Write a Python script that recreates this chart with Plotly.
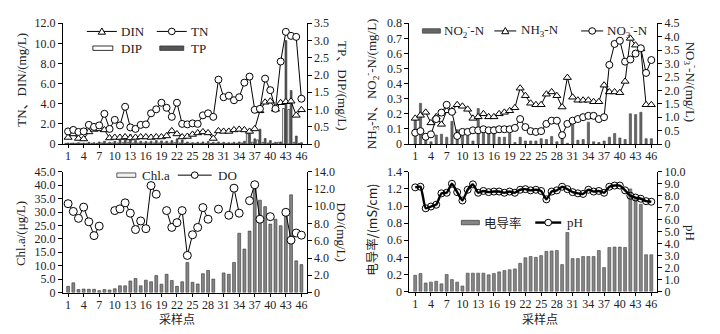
import plotly.graph_objects as go

# ---------------- data ----------------
sites = list(range(1, 47))

tn = [1.25, 1.4, 1.2, 1.25, 1.9, 1.7, 1.85, 3.0, 1.5, 2.4, 1.85, 3.7, 1.65, 1.5, 1.9, 1.95,
      3.05, 3.45, 4.1, 3.6, 2.7, 4.1, 2.0, 1.95, 2.05, 2.0, 2.85, 3.05, 2.7, 6.4, 4.65, 4.8,
      4.35, 4.65, 6.1, 6.7, 3.4, 3.5, 6.5, 5.35, 3.5, 8.2, 11.15, 10.75, 10.65, 4.5]
din = [0.65, 1.0, 0.55, 0.5, 1.2, 1.45, 1.5, 1.4, 0.6, 0.65, 0.65, 0.7, 0.6, 0.65, 0.7, 0.7,
       0.65, 0.7, 0.7, 0.8, 1.3, 1.0, 0.7, 0.75, 0.95, 1.1, 1.2, 1.1, 0.55, 1.3, 1.25, 1.25,
       1.4, 1.45, 1.4, 1.25, 1.5, 3.3, 4.15, 4.25, 3.45, 4.1, 4.2, 4.25, 2.85, 3.4]
tp = [0.03, 0.03, 0.04, 0.03, 0.05, 0.04, 0.06, 0.08, 0.05, 0.08, 0.12, 0.18, 0.28, 0.1, 0.08, 0.07,
      0.08, 0.1, 0.09, 0.08, 0.1, 0.15, 0.12, 0.06, 0.04, 0.05, 0.06, 0.07, 0.05, 0.06, 0.05, 0.04,
      0.05, 0.06, 0.08, 0.4, 0.15, 0.43, 0.16, 0.1, 0.05, 0.06, 3.0, 1.55, 0.23, 0.04]
dip = [0.02, 0.02, 0.02, 0.02, 0.02, 0.02, 0.02, 0.03, 0.02, 0.03, 0.03, 0.04, 0.05, 0.03, 0.03, 0.03,
       0.03, 0.03, 0.03, 0.03, 0.03, 0.04, 0.03, 0.02, 0.02, 0.02, 0.02, 0.02, 0.02, 0.02, 0.02, 0.02,
       0.02, 0.02, 0.03, 0.3, 0.05, 0.12, 0.05, 0.03, 0.02, 0.05, 1.03, 1.0, 0.05, 0.02]

no2 = [0.16, 0.27, 0.07, 0.015, 0.06, 0.065, 0.045, 0.15, 0.095, 0.07, 0.055, 0.02, 0.235, 0.11, 0.08, 0.115,
       0.045, 0.045, 0.07, 0.01, 0.045, 0.02, 0.02, 0.02, 0.035, 0.03, 0.05, 0.015, 0.035, 0.005, 0.145, 0.025,
       0.03, 0.145, 0.015, 0.01, 0.02, 0.045, 0.07, 0.04, 0.03, 0.2, 0.195, 0.21, 0.035, 0.035]
nh3 = [0.17, 0.19, 0.21, 0.14, 0.18, 0.13, 0.22, 0.22, 0.26, 0.25, 0.23, 0.17, 0.18, 0.2, 0.18, 0.18,
       0.2, 0.21, 0.22, 0.24, 0.37, 0.32, 0.27, 0.26, 0.26, 0.33, 0.345, 0.32, 0.245, 0.44, 0.31, 0.29,
       0.29, 0.29, 0.28, 0.28, 0.39, 0.345, 0.345, 0.34, 0.415, 0.7, 0.655, 0.63, 0.26, 0.26]
no3 = [0.42, 0.48, 0.27, 0.36, 0.93, 1.17, 1.46, 1.2, 0.3, 0.45, 0.45, 0.51, 0.51, 0.55, 0.51, 0.51,
       0.55, 0.55, 0.55, 0.6, 0.93, 0.63, 0.48, 0.45, 0.48, 0.75, 0.87, 0.87, 0.33, 0.75, 0.87, 0.93,
       1.0, 1.05, 1.05, 0.93, 1.0, 2.95, 3.73, 3.85, 3.07, 3.15, 3.37, 3.57, 2.65, 3.13]

chla = [2.3, 3.6, 1.1, 1.3, 1.2, 1.2, 0.7, 1.1, 0.95, 1.4, 2.5, 2.5, 4.3, 5.2, 2.5, 4.6,
        4.0, 6.3, 3.1, 6.8, 4.5, 2.3, 4.0, 11.2, 3.8, 3.2, 7.0, 8.2, 5.0, None, 7.3, 6.8,
        11.2, 22.1, 16.2, 22.9, 39.2, 34.4, 32.0, 25.5, 27.3, 24.9, 28.5, 36.4, 11.8, 10.4]
do = [10.3, 9.4, 8.6, 9.9, 8.2, 6.6, 7.7, None, None, 9.5, 9.7, 10.4, 9.2, 7.3, 8.3, 7.4,
      12.4, 11.4, None, 9.5, 7.55, 8.1, 9.5, 4.3, 6.7, 7.55, 9.85, 8.5, None, 9.67, None, 8.96,
      12.1, 9.2, None, 10.65, 12.5, 8.5, None, 8.8, None, None, 9.3, 6.07, 6.9, 6.65]

cond = [0.19, 0.21, 0.10, 0.11, 0.12, 0.09, 0.2, 0.14, 0.11, 0.065, 0.215, 0.215, 0.215, 0.215, 0.195, 0.21,
        0.23, 0.245, 0.255, 0.265, 0.33, 0.395, 0.41, 0.40, 0.42, 0.47, 0.475, 0.48, 0.315, 0.69, 0.385, 0.385,
        0.41, 0.41, 0.41, 0.48, 0.28, 0.515, 0.52, 0.52, 0.515, 1.2, 1.09, 1.02, 0.43, 0.43]
ph = [8.7, 8.75, 6.95, 7.1, 7.25, 8.2, 8.25, 9.0, 8.3, 7.6, 8.5, 8.95, 8.25, 8.4, 8.3, 8.35,
      8.35, 8.25, 8.35, 8.25, 8.5, 8.55, 8.45, 8.5, 8.4, 7.7, 8.35, 8.45, 8.75, 8.55, 8.3, 8.2,
      8.15, 8.5, 8.35, 8.4, 8.25, 8.75, 8.85, 8.85, 8.45, 8.0, 7.85, 7.75, 7.55, 7.5]

x_ticks = list(range(1, 47, 3))

# ---------------- helpers ----------------
W, H = 720, 334
FONT = "Liberation Serif, Noto Sans CJK SC, serif"
CJK = "Noto Sans CJK SC, Liberation Serif, sans-serif"


def px(x):
    return x / W


def py(y):
    return 1 - y / H


def fmt(v, dec):
    return "0" if v == 0 else f"{v:.{dec}f}"


def y_axis(lo_px, hi_px, top, step, dec, side, anchor, overlaying=None):
    n = int(round(top / step))
    vals = [round(i * step, 4) for i in range(n + 1)]
    d = dict(domain=[py(lo_px), py(hi_px)], range=[0, top], tickvals=vals,
             ticktext=[fmt(v, dec) for v in vals], side=side, anchor=anchor,
             showline=True, linecolor="black", linewidth=1, ticks="outside",
             ticklen=4, tickcolor="black", showgrid=False, zeroline=False,
             tickfont=dict(family=FONT, size=12, color="#222"), fixedrange=True)
    if overlaying:
        d["overlaying"] = overlaying
    return d


def x_axis(x0_px, x1_px, anchor, rng):
    return dict(domain=[px(x0_px), px(x1_px)], range=rng, tickvals=x_ticks,
                ticktext=[str(v) for v in x_ticks], anchor=anchor, showline=True,
                linecolor="black", linewidth=1, ticks="outside", ticklen=3,
                tickcolor="black", showgrid=False, zeroline=False, ticklabelstandoff=-2,
                tickfont=dict(family=FONT, size=12, color="#222"), fixedrange=True)


def line_trace(y, xa, ya, symbol, size=7, width=1, name=""):
    return go.Scatter(x=sites, y=y, xaxis=xa, yaxis=ya, mode="lines+markers",
                      name=name, connectgaps=False, showlegend=False,
                      line=dict(color="black", width=width),
                      marker=dict(symbol=symbol, size=size, color="white",
                                  line=dict(color="black", width=1)))


def bar_trace(y, xa, ya, fill, edge, offset, width, name=""):
    return go.Bar(x=sites, y=y, xaxis=xa, yaxis=ya, name=name, showlegend=False,
                  offset=offset, width=width, marker=dict(color=fill, line=dict(color=edge, width=0.6)))


fig = go.Figure()

# --- TN / DIN with TP / DIP ---
fig.add_trace(bar_trace(dip, "x", "y", "white", "black", -0.62, 0.36, "DIP"))
fig.add_trace(bar_trace(tp, "x", "y", "#555555", "#333333", -0.16, 0.36, "TP"))
fig.add_trace(line_trace(din, "x", "y2", "triangle-up", name="DIN"))
fig.add_trace(line_trace(tn, "x", "y2", "circle", name="TN"))

# --- NH3-N / NO2-N with NO3-N ---
fig.add_trace(bar_trace(no2, "x2", "y3", "#666666", "#444444", -0.2, 0.42, "NO2-N"))
fig.add_trace(line_trace(nh3, "x2", "y3", "triangle-up", name="NH3-N"))
fig.add_trace(line_trace(no3, "x2", "y4", "circle", name="NO3-N"))

# --- Chl.a with DO ---
fig.add_trace(bar_trace(chla, "x3", "y5", "#858585", "#333333", -0.27, 0.55, "Chl.a"))
fig.add_trace(line_trace(do, "x3", "y6", "circle", size=8, name="DO"))

# --- conductivity with pH ---
fig.add_trace(bar_trace(cond, "x4", "y7", "#858585", "#444444", -0.28, 0.56, "电导率"))
fig.add_trace(go.Scatter(x=sites, y=ph, xaxis="x4", yaxis="y8", mode="lines+markers",
                         name="pH", showlegend=False, line=dict(color="black", width=2.4, shape="spline", smoothing=0.5),
                         marker=dict(symbol="circle", size=7, color="rgba(255,255,255,0)",
                                     line=dict(color="black", width=1))))

LX = [0, 47]
RX = [-0.1, 47.1]
fig.update_layout(
    width=W, height=H, margin=dict(l=0, r=0, t=0, b=0),
    paper_bgcolor="white", plot_bgcolor="rgba(0,0,0,0)",
    barmode="overlay", showlegend=False,
    font=dict(family=FONT, size=12, color="#222"),
    xaxis=x_axis(63, 307, "y", LX),
    yaxis=y_axis(143, 17, 3.5, 0.5, 1, "right", "x"),
    yaxis2=y_axis(143, 17, 12.0, 2.0, 1, "left", "x", overlaying="y"),
    xaxis2=x_axis(410, 658, "y3", RX),
    yaxis3=y_axis(143, 17, 0.8, 0.1, 1, "left", "x2"),
    yaxis4=y_axis(143, 17, 4.5, 0.5, 1, "right", "x2", overlaying="y3"),
    xaxis3=x_axis(63, 307, "y5", LX),
    yaxis5=y_axis(298, 172, 45.0, 5.0, 1, "left", "x3"),
    yaxis6=y_axis(298, 172, 14.0, 2.0, 1, "right", "x3", overlaying="y5"),
    xaxis4=x_axis(410, 658, "y7", RX),
    yaxis7=y_axis(297, 172, 1.4, 0.2, 1, "left", "x4"),
    yaxis8=y_axis(297, 172, 10.0, 1.0, 1, "right", "x4", overlaying="y7"),
)

annotations = []
shapes = []


def text(x, y, s, size=13, angle=0, anchor="center", family=FONT):
    annotations.append(dict(x=px(x), y=py(y), xref="paper", yref="paper", text=s,
                            showarrow=False, textangle=angle, xanchor=anchor, yanchor="middle",
                            font=dict(family=family, size=size, color="#222")))


# axis titles
text(22, 76, "TN、DIN/(mg/L)", angle=-90)
text(343, 82, "TP、DIP/(mg/L)", angle=90)
text(372, 80, "NH<sub>3</sub>-N、NO<sub>2</sub><sup>-</sup>-N/(mg/L)", angle=-90)
text(692, 78, "NO<sub>3</sub><sup>-</sup>-N/(mg/L)", angle=90)
text(20, 236, "Chl.a/(μg/L)", angle=-90)
text(342, 235, "DO/(mg/L)", angle=90)
text(372, 232, "电导率/(mS/cm)", angle=-90, family=CJK, size=12.5)
text(692, 236, "pH", angle=90)
text(177, 325.5, "采样点", size=12, family=CJK)
text(541, 325.5, "采样点", size=12, family=CJK)


# legend symbols
def leg_line(x0, x1, y, marker, width=1):
    shapes.append(dict(type="line", xref="paper", yref="paper", x0=px(x0), x1=px(x1),
                       y0=py(y), y1=py(y), line=dict(color="black", width=width)))
    cx = (x0 + x1) / 2
    if marker == "circle":
        r = 3.4
        shapes.append(dict(type="circle", xref="paper", yref="paper", x0=px(cx - r), x1=px(cx + r),
                           y0=py(y + r), y1=py(y - r), fillcolor="white",
                           line=dict(color="black", width=1)))
    else:
        h = 3.6
        path = (f"M {px(cx - h)} {py(y + h * 0.8)} L {px(cx + h)} {py(y + h * 0.8)} "
                f"L {px(cx)} {py(y - h)} Z")
        shapes.append(dict(type="path", xref="paper", yref="paper", path=path,
                           fillcolor="white", line=dict(color="black", width=1)))


def leg_rect(x0, x1, y, fill, edge="black"):
    shapes.append(dict(type="rect", xref="paper", yref="paper", x0=px(x0), x1=px(x1),
                       y0=py(y + 2.3), y1=py(y - 2.3), fillcolor=fill, line=dict(color=edge, width=0.8)))


leg_line(87, 117, 25.5, "triangle")
text(119, 25.5, "DIN", anchor="left")
leg_line(157, 187, 25.5, "circle")
text(189, 25.5, "TN", anchor="left")
leg_rect(93, 113, 43, "white")
text(119, 43, "DIP", anchor="left")
leg_rect(160, 184, 43, "#555555", "#333333")
text(189, 43, "TP", anchor="left")

leg_rect(423, 441, 25, "#666666", "#444444")
text(443, 25, "NO<sub>2</sub><sup>-</sup>-N", anchor="left")
leg_line(495, 517, 25, "triangle")
text(520, 25, "NH<sub>3</sub>-N", anchor="left")
leg_line(582, 604, 25, "circle")
text(606, 25, "NO<sub>3</sub><sup>-</sup>-N", anchor="left")

leg_rect(117, 136, 175.5, "#f2f2f2", "#333333")
text(140, 175.5, "Chl.a", anchor="left")
leg_line(178, 212, 175.5, "circle")
text(216, 175.5, "DO", anchor="left")

leg_rect(462, 480, 225, "#858585", "#444444")
text(483, 225, "电导率", anchor="left", family=CJK, size=12.5)
leg_line(536, 562, 225, "circle", width=2.4)
text(566, 225, "pH", anchor="left")

fig.update_layout(annotations=annotations, shapes=shapes)
fig.write_html("out.html")
